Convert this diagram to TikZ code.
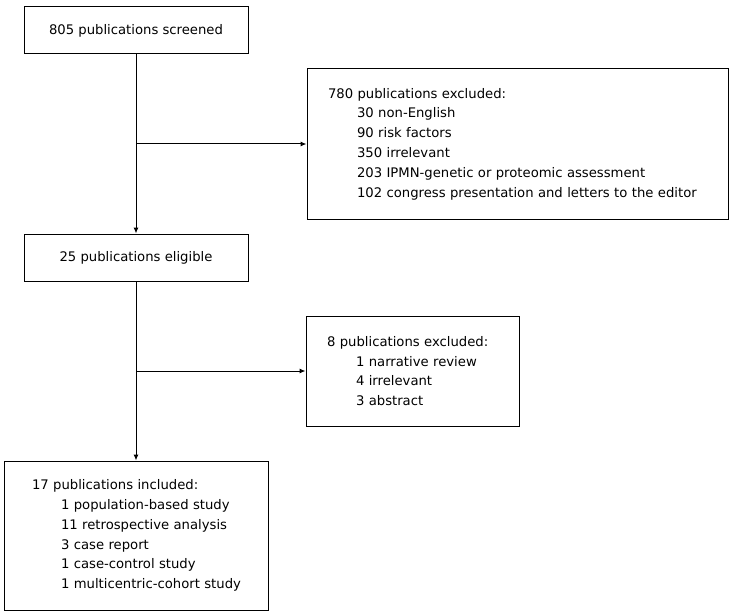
\documentclass[tikz,border=0pt]{standalone}
\usepackage{fontspec}
\setmainfont{DejaVu Sans}
\usetikzlibrary{arrows.meta}
\begin{document}
\begin{tikzpicture}[x=1pt,y=-1pt,
  box/.style={draw=black,line width=1pt,rectangle,inner sep=0pt,font=\fontsize{13.2}{19.8}\selectfont},
  listbox/.style={box,align=left,inner ysep=0pt},
  conn/.style={draw=black,line width=1pt},
  arr/.style={conn,-{Latex[length=6pt,width=5pt]}}]
\useasboundingbox (0,0) rectangle (736,615);
\newcommand{\ind}[1]{\hspace*{29pt}\mbox{#1}}
\node[box,minimum width=224pt,minimum height=47pt] (screen) at (136,30.5) {805 publications screened};
\node[box,minimum width=224pt,minimum height=47pt] (elig) at (136,257.5) {25 publications eligible};
\node[listbox,inner xsep=21pt,text width=379pt,minimum height=150pt] (excl1) at (517.5,144)
 {780 publications excluded:\\
 \ind{30 non-English}\\
 \ind{90 risk factors}\\
 \ind{350 irrelevant}\\
 \ind{203 IPMN-genetic or proteomic assessment}\\
 \ind{102 congress presentation and letters to the editor}};
\node[listbox,inner xsep=21pt,text width=171pt,minimum height=110pt] (excl2) at (412.5,371)
 {8 publications excluded:\\
 \ind{1 narrative review}\\
 \ind{4 irrelevant}\\
 \ind{3 abstract}};
\node[listbox,inner xsep=28pt,text width=208pt,minimum height=149pt] (incl) at (136,535.5)
 {17 publications included:\\
 \ind{1 population-based study}\\
 \ind{11 retrospective analysis}\\
 \ind{3 case report}\\
 \ind{1 case-control study}\\
 \ind{1 multicentric-cohort study}};
\coordinate (j1) at (screen.south |- excl1.west);
\coordinate (j2) at (elig.south |- excl2.west);
\draw[arr] (screen.south) -- (elig.north);
\draw[arr] (j1) -- (excl1.west);
\draw[arr] (elig.south) -- (incl.north);
\draw[arr] (j2) -- (excl2.west);
\end{tikzpicture}
\end{document}
